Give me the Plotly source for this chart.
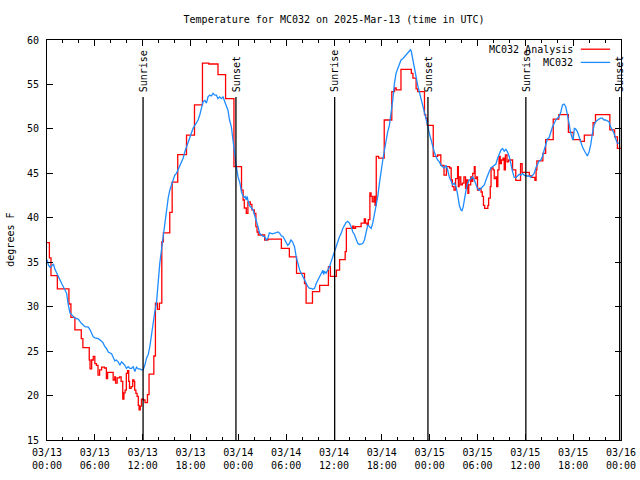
import pandas as pd
import plotly.graph_objects as go

BASE = pd.Timestamp("2025-03-13 00:00")

# Analysis (stepped) : hours since 03/13 00:00 UTC, degrees F
analysis_hours = [0.0, 0.3, 0.5, 1.3, 2.75, 3.0, 3.5, 4.3, 4.5,
    5.3, 5.4, 5.6, 5.8, 6.0, 6.2, 6.4, 6.6, 6.85, 7.2, 7.45, 7.6, 8.2, 8.3, 8.5, 8.6, 8.8,
    9.1, 9.3, 9.5, 9.65, 9.8, 9.95, 10.1, 10.25, 10.35, 10.55, 10.75, 10.9, 11.0, 11.15,
    11.3, 11.45, 11.55, 11.7, 11.85, 12.1, 12.3, 12.6, 12.8, 13.4, 13.6, 13.85, 14.1, 14.4,
    14.6, 15.4, 15.7, 16.4, 17.5, 18.5, 19.5, 20.3, 21.45, 22.4, 23.45, 24.4, 24.6, 24.75,
    25.0, 25.2, 25.5, 25.7, 26.0, 26.2, 26.35, 26.5, 27.3, 27.7, 29.4, 30.4, 31.3, 32.3,
    32.5, 33.3, 34.2, 35.3, 35.55, 36.3, 36.7, 37.4, 37.55, 38.35, 38.5, 38.7, 39.4, 39.8,
    39.95, 40.15, 40.3, 40.5, 40.65, 40.8, 41.0, 41.15, 41.3, 41.6, 42.3, 43.25, 43.6,
    43.8, 44.4, 45.7, 45.9, 46.3, 46.5, 47.35, 47.5, 47.7, 48.45, 49.0, 49.4, 49.8, 50.1,
    50.5, 50.7, 50.85, 51.05, 51.25, 51.5, 51.6, 51.7, 51.9, 52.1, 52.3, 52.5, 52.65, 52.8,
    52.9, 53.15, 53.25, 53.4, 53.6, 53.7, 53.9, 54.0, 54.2, 54.45, 54.6, 54.75, 54.9, 55.3,
    55.4, 55.6, 55.7, 55.95, 56.1, 56.3, 56.4, 56.55, 56.7, 56.85, 57.0, 57.2, 57.35, 57.5,
    57.7, 57.9, 58.4, 58.8, 59.4, 59.6, 60.5, 60.8, 61.2, 61.35, 61.45, 62.2, 62.55, 63.5,
    64.2, 65.4, 66.0, 66.9, 67.4, 68.5, 68.8, 70.6, 71.2, 71.55, 72.0]
analysis_temps = [37.2, 35.5, 33.5, 32.0, 30.3, 28.8, 27.4, 26.4, 25.4,
    24.0, 23.0, 24.0, 24.4, 23.6, 23.4, 22.3, 22.9, 23.2, 23.1, 21.9, 22.6, 22.6, 21.75, 22.1, 21.4, 22.0,
    22.1, 21.6, 19.6, 20.3, 20.6, 22.5, 22.8, 21.6, 20.8, 21.0, 21.75, 21.6, 20.6, 20.25,
    19.9, 18.9, 18.4, 18.8, 19.6, 19.5, 19.2, 20.1, 22.4, 24.45, 30.4, 29.7, 30.4, 37.3,
    38.3, 40.6, 44.0, 47.1, 49.3, 52.7, 57.4, 57.3, 56.1, 53.4, 45.75, 43.1, 42.0, 41.1,
    40.5, 41.8, 41.5, 40.9, 40.5, 39.0, 38.4, 38.06, 37.5, 37.6, 36.56, 35.6, 33.75, 32.6,
    30.4, 31.7, 32.4, 34.5, 33.4, 34.1, 35.3, 36.2, 38.8, 39.07, 38.8, 39.0, 39.4, 39.86,
    39.4, 39.2, 39.8, 42.8, 42.4, 41.8, 42.4, 41.4, 46.9, 46.7, 51.0, 54.2, 54.6,
    54.4, 56.7, 56.25, 55.7, 54.5, 54.2, 51.6, 51.2, 50.4, 46.9, 47.06, 45.9, 44.8, 45.75,
    45.6, 44.25, 43.5, 43.1, 44.4, 45.75, 43.5, 44.6, 43.7, 43.9, 44.6, 43.3, 44.25, 42.75,
    43.7, 44.6, 44.1, 45.0, 45.75, 44.4, 44.6, 43.1, 43.3, 42.9, 42.4, 41.4, 41.06, 41.4,
    42.2, 43.5, 45.6, 45.4, 44.4, 44.6, 43.5, 45.4, 46.9, 46.1, 46.5, 46.7, 45.4, 47.06,
    46.3, 46.5, 45.4, 44.2, 46.1, 45.1, 44.7, 44.55, 44.2, 45.4, 46.4, 47.25, 48.8, 51.1,
    51.6, 49.6, 48.8, 48.6, 49.3, 50.7, 51.6, 49.9, 49.1, 47.8, 47.8]

# Observations
obs_hours = [0.0, 0.17, 0.4, 0.6, 0.8, 1.0, 1.2, 1.42, 1.63, 1.84, 2.05, 2.25, 2.46, 2.67, 2.88,
    3.09, 3.5, 3.92, 4.34, 4.76, 5.18, 5.4, 5.59, 5.8, 6.01, 6.43, 6.85, 7.05, 7.26, 7.47,
    7.68, 7.9, 8.1, 8.3, 8.51, 8.7, 8.93, 9.14, 9.35, 9.56, 9.77, 9.98, 10.18, 10.4, 10.6,
    10.81, 11.02, 11.23, 11.44, 11.65, 11.85, 12.06, 12.27, 12.48, 12.69, 12.9, 13.11,
    13.32, 13.52, 13.73, 13.94, 14.15, 14.36, 14.57, 14.78, 14.99, 15.2, 15.4, 15.6, 15.82,
    16.03, 16.24, 16.45, 16.65, 16.86, 17.07, 17.28, 17.49, 17.7, 17.9, 18.1, 18.32, 18.53,
    18.74, 18.95, 19.16, 19.37, 19.58, 19.8, 20.0, 20.2, 20.41, 20.62, 20.83, 21.04, 21.25,
    21.45, 21.66, 21.87, 22.08, 22.3, 22.5, 22.7, 22.9, 23.12, 23.33, 23.54, 23.75, 23.96,
    24.1, 24.2, 24.4, 24.6, 24.75, 24.85, 25.0, 25.1, 25.2, 25.4, 25.84, 26.05, 26.26,
    26.47, 26.67, 26.9, 27.1, 27.3, 27.5, 27.7, 27.9, 28.3, 28.6, 29.0, 29.2, 29.4, 29.6,
    29.8, 30.0, 30.2, 30.4, 30.6, 30.8, 31.05, 31.26, 31.47, 31.7, 31.9, 32.1, 32.3, 32.5,
    32.73, 32.94, 33.15, 33.35, 33.56, 33.77, 33.98, 34.2, 34.4, 34.6, 34.7, 34.8, 35.0,
    35.23, 35.44, 35.65, 35.86, 36.07, 36.28, 36.48, 36.7, 36.9, 37.1, 37.32, 37.5, 37.73,
    37.94, 38.15, 38.36, 38.57, 38.78, 38.99, 39.2, 39.4, 39.6, 39.82, 40.03, 40.24, 40.45,
    40.66, 40.86, 41.07, 41.28, 41.49, 41.7, 41.91, 42.12, 42.33, 42.54, 42.74, 42.95,
    43.16, 43.37, 43.58, 43.78, 44.0, 44.2, 44.41, 44.62, 44.83, 45.04, 45.25, 45.45, 45.6,
    45.7, 45.87, 46.08, 46.29, 46.5, 46.71, 46.92, 47.12, 47.33, 47.54, 47.75, 47.96, 48.17,
    48.38, 48.58, 48.79, 49.0, 49.21, 49.42, 49.63, 49.84, 50.05, 50.25, 50.46, 50.67,
    50.88, 51.09, 51.3, 51.51, 51.72, 51.92, 52.05, 52.2, 52.35, 52.56, 52.76, 52.97,
    53.18, 53.39, 53.6, 53.8, 54.0, 54.22, 54.43, 54.64, 54.85, 55.06, 55.27, 55.47, 55.68,
    55.89, 56.1, 56.31, 56.52, 56.73, 56.93, 57.14, 57.35, 57.56, 57.77, 57.98, 58.19,
    58.4, 58.6, 58.8, 59.02, 59.23, 59.44, 59.65, 59.86, 60.06, 60.27, 60.48, 60.69, 60.9,
    61.11, 61.31, 61.52, 61.73, 61.94, 62.15, 62.36, 62.57, 62.78, 62.98, 63.19, 63.4,
    63.61, 63.82, 64.03, 64.24, 64.45, 64.66, 64.86, 65.07, 65.28, 65.49, 65.7, 65.9, 66.0,
    66.15, 66.3, 66.53, 66.74, 66.95, 67.16, 67.37, 67.58, 67.78, 67.99, 68.2, 68.41,
    68.62, 68.82, 69.03, 69.24, 69.45, 69.66, 69.87, 70.07, 70.28, 70.49, 70.7, 70.91,
    71.12, 71.33, 71.54, 71.75]
obs_temps = [35.3, 34.7, 34.4, 34.6, 34.8, 34.2, 33.75, 33.4, 33.0, 32.6, 32.25, 32.0, 31.5, 30.2, 29.3,
    29.1, 28.7, 28.6, 28.1, 27.75, 27.7, 27.4, 27.0, 26.6, 26.5, 26.4, 26.1, 25.9, 25.5, 25.3,
    24.9, 24.75, 24.7, 24.3, 23.9, 24.0, 23.8, 23.4, 23.8, 23.6, 23.4, 23.05, 23.25, 23.05, 23.05,
    23.25, 22.7, 23.2, 23.0, 23.0, 22.9, 22.9, 23.4, 24.2, 24.6, 25.5, 27.0,
    28.5, 29.4, 30.4, 33.2, 34.9, 36.4, 38.0, 39.4, 40.9, 42.2, 43.1, 43.7, 44.4,
    44.8, 45.0, 45.4, 45.9, 46.3, 46.7, 47.4, 48.0, 48.6, 49.1, 49.5, 50.06, 50.4,
    50.6, 51.0, 51.56, 52.3, 53.06, 53.2, 52.9, 53.6, 53.8, 53.7, 54.0, 53.8, 53.8,
    53.4, 53.6, 53.4, 53.6, 53.06, 52.5, 52.1, 51.0, 50.25, 48.75, 46.9, 45.75, 44.6,
    44.3, 43.9, 42.9, 42.4, 42.3, 42.4, 42.0, 42.4, 42.0, 41.4, 40.9, 40.3, 39.75,
    39.0, 38.25, 38.1, 37.9, 37.9, 37.5, 37.7, 38.3, 38.2, 38.3, 38.4, 38.25, 37.95, 37.9,
    37.5, 37.1, 36.9, 37.1, 37.5, 37.3, 36.75, 35.6, 34.7, 34.1, 33.75, 33.4, 33.0, 32.6,
    32.25, 32.06, 32.06, 31.95, 32.06, 32.6, 33.0, 33.4, 33.75, 34.1, 33.6, 34.0, 33.75,
    34.1, 34.5, 35.1, 35.6, 36.2, 36.75, 37.3, 37.9, 38.25, 38.8, 39.2, 39.45, 39.6,
    39.4, 39.0, 38.4, 38.1, 37.5, 37.1, 37.0, 37.05, 37.1, 37.5, 38.4, 39.2, 39.0,
    38.8, 39.4, 40.3, 41.25, 42.4, 43.9, 45.4, 46.5, 47.6, 48.75, 49.7, 50.4,
    51.6, 53.25, 55.1, 56.25, 56.8, 57.4, 57.75, 57.9, 58.1, 58.3, 58.5, 58.7, 58.9,
    58.7, 57.75, 56.8, 55.9, 54.9, 54.2, 53.4, 52.7, 51.9, 51.2, 50.4, 49.5, 48.75,
    48.0, 47.4, 46.9, 46.5, 46.3, 45.9, 45.75, 45.6, 45.9, 45.4, 44.6, 44.1,
    43.7, 43.9, 43.5, 42.6, 41.4, 40.9, 40.8, 41.2, 42.2, 43.1, 43.9, 44.25,
    44.4, 44.6, 44.25, 43.7, 43.3, 43.1, 43.3, 43.5, 43.7, 44.25, 44.8, 45.2, 45.6,
    45.75, 45.8, 46.05, 46.7, 47.25, 47.6, 47.8, 47.5, 47.7, 47.4, 46.9, 45.9,
    45.2, 44.55, 44.5, 44.7, 44.9, 44.8, 45.0, 44.8, 44.7, 44.7, 44.7, 44.55, 44.8,
    45.0, 45.6, 46.1, 46.4, 46.5, 46.9, 47.6, 48.4, 48.9, 49.0, 49.7, 50.2,
    50.6, 51.0, 51.2, 51.4, 51.9, 52.7, 52.8, 52.5, 51.6, 50.4, 49.5, 48.9, 48.75,
    50.06, 50.0, 49.7, 49.1, 48.75, 48.0, 47.6, 47.25, 46.95, 47.4, 48.2, 49.5,
    50.4, 50.8, 51.0, 51.1, 51.2, 51.2, 51.0, 51.0, 50.9, 50.8, 50.25, 49.9,
    49.5, 48.9, 48.4, 48.4]

sun_labels = ["Sunrise", "Sunset", "Sunrise", "Sunset", "Sunrise", "Sunset"]
sun_times = ["2025-03-13 12:03", "2025-03-13 23:42", "2025-03-14 12:05",
             "2025-03-14 23:47", "2025-03-15 12:04", "2025-03-15 23:50"]

tick_times = ["2025-03-13 00:00", "2025-03-13 06:00", "2025-03-13 12:00", "2025-03-13 18:00",
              "2025-03-14 00:00", "2025-03-14 06:00", "2025-03-14 12:00", "2025-03-14 18:00",
              "2025-03-15 00:00", "2025-03-15 06:00", "2025-03-15 12:00", "2025-03-15 18:00",
              "2025-03-16 00:00"]
tick_text = ["03/13<br>00:00", "03/13<br>06:00", "03/13<br>12:00", "03/13<br>18:00",
             "03/14<br>00:00", "03/14<br>06:00", "03/14<br>12:00", "03/14<br>18:00",
             "03/15<br>00:00", "03/15<br>06:00", "03/15<br>12:00", "03/15<br>18:00",
             "03/16<br>00:00"]

series_names = ["MC032 Analysis", "MC032"]
series_colors = ["#ff0000", "#1e8cff"]

FONT = "DejaVu Sans Mono"

a_x = [BASE + pd.Timedelta(hours=h) for h in analysis_hours]
o_x = [BASE + pd.Timedelta(hours=h) for h in obs_hours]

fig = go.Figure()
fig.add_trace(go.Scatter(x=a_x, y=analysis_temps, mode="lines", line_shape="hv",
                         line=dict(color=series_colors[0], width=1.3), name=series_names[0]))
fig.add_trace(go.Scatter(x=o_x, y=obs_temps, mode="lines",
                         line=dict(color=series_colors[1], width=1.3), name=series_names[1]))

shapes = []
annotations = []
for lab, t in zip(sun_labels, sun_times):
    shapes.append(dict(type="line", xref="x", yref="y", x0=t, x1=t, y0=15, y1=53.6,
                       line=dict(color="black", width=1.3)))
    annotations.append(dict(x=t, y=53.9, xref="x", yref="y", text=lab, showarrow=False,
                            textangle=-90, xanchor="center", yanchor="bottom",
                            font=dict(family=FONT, size=10, color="black")))

# legend drawn at the top right (line sample to the right of the text)
leg_y = [0.977, 0.944]
for name, col, yy in zip(series_names, series_colors, leg_y):
    annotations.append(dict(x=0.919, y=yy, xref="paper", yref="paper", text=name,
                            showarrow=False, xanchor="right", yanchor="middle",
                            font=dict(family=FONT, size=10, color="black")))
    shapes.append(dict(type="line", xref="paper", yref="paper", x0=0.930, x1=0.981,
                       y0=yy, y1=yy, line=dict(color=col, width=1.3)))

# y-axis title
annotations.append(dict(x=-0.065, y=0.5, xref="paper", yref="paper", text="degrees F",
                        showarrow=False, textangle=-90, xanchor="center", yanchor="middle",
                        font=dict(family=FONT, size=10, color="black")))

fig.update_layout(
    width=640, height=480,
    margin=dict(l=47, r=19, t=40, b=40),
    paper_bgcolor="white", plot_bgcolor="white",
    showlegend=False,
    font=dict(family=FONT, size=10, color="black"),
    title=dict(text="Temperature for MC032 on 2025-Mar-13 (time in UTC)",
               x=0.522, xanchor="center", y=0.96, yanchor="middle",
               font=dict(family=FONT, size=10, color="black")),
    shapes=shapes, annotations=annotations,
)
fig.update_xaxes(
    type="date", range=["2025-03-13 00:00", "2025-03-16 00:00"],
    tickvals=tick_times, ticktext=tick_text,
    ticks="inside", ticklen=6, tickcolor="black", tickwidth=1,
    showline=True, linecolor="black", linewidth=1, mirror="ticks",
    showgrid=False, zeroline=False, automargin=False, ticklabelstandoff=3,
    minor=dict(dtick=2 * 3600 * 1000, ticks="inside", ticklen=3, tickcolor="black", showgrid=False),
    tickfont=dict(family=FONT, size=10, color="black"),
)
fig.update_yaxes(
    range=[15, 60], dtick=5, tick0=15,
    ticks="inside", ticklen=6, tickcolor="black", tickwidth=1,
    showline=True, linecolor="black", linewidth=1, mirror="ticks",
    showgrid=False, zeroline=False, automargin=False, ticklabelstandoff=5,
    tickfont=dict(family=FONT, size=10, color="black"),
)

fig.write_html("out.html", config={"displayModeBar": False},
               post_script="document.body.style.margin='0px';")
